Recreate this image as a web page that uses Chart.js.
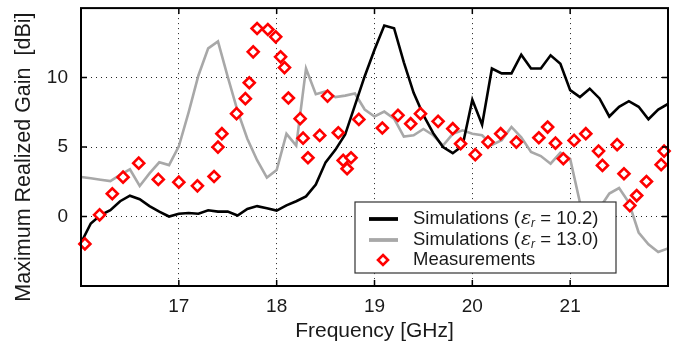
<!DOCTYPE html>
<html>
<head>
  <meta charset="UTF-8" />
  <title>Gain</title>
  <script src="https://cdn.jsdelivr.net/npm/chart.js"></script>
  <style>
    html, body { margin: 0; padding: 0; background: #fff; }
    #wrap { width: 687px; height: 351px; }
  </style>
</head>
<body>
  <div id="wrap"><canvas id="gain" width="687" height="351"></canvas></div>

  <script>
    // simulation frequency grid [GHz]
    const simFreq = [16.0, 16.1, 16.2, 16.3, 16.4, 16.5, 16.6, 16.7, 16.8, 16.9,
      17.0, 17.1, 17.2, 17.3, 17.4, 17.5, 17.6, 17.7, 17.8, 17.9,
      18.0, 18.1, 18.2, 18.3, 18.4, 18.5, 18.6, 18.7, 18.8, 18.9,
      19.0, 19.1, 19.2, 19.3, 19.4, 19.5, 19.6, 19.7, 19.8, 19.9,
      20.0, 20.1, 20.2, 20.3, 20.4, 20.5, 20.6, 20.7, 20.8, 20.9,
      21.0, 21.1, 21.2, 21.3, 21.4, 21.5, 21.6, 21.7, 21.8, 21.9, 22.0];

    // simulated gain, eps_r = 10.2 [dBi]
    const simGain102 = [-1.9, -0.5, 0.1, 0.45, 1.1, 1.5, 1.25, 0.75, 0.35, 0.0,
      0.2, 0.25, 0.2, 0.45, 0.35, 0.35, 0.07, 0.55, 0.75, 0.6,
      0.43, 0.8, 1.1, 1.45, 2.3, 3.9, 4.8, 5.9, 8.0, 10.1,
      12.0, 13.75, 13.55, 11.1, 8.9, 7.3, 6.0, 5.0, 4.56, 5.1,
      8.4, 6.6, 10.65, 10.3, 10.3, 11.65, 10.65, 10.65, 11.6, 11.0,
      9.1, 8.6, 9.2, 8.5, 7.2, 7.9, 8.3, 7.9, 7.0, 7.7, 8.1];

    // simulated gain, eps_r = 13.0 [dBi]
    const simGain130 = [2.85, 2.75, 2.65, 2.55, 3.0, 3.4, 2.2, 3.1, 3.9, 3.7,
      5.05, 7.5, 10.15, 12.1, 12.6, 10.05, 7.6, 5.6, 4.05, 2.8,
      3.35, 5.95, 5.1, 10.65, 8.8, 9.0, 8.6, 8.7, 8.85, 7.7,
      7.2, 7.55, 7.05, 5.75, 5.85, 6.3, 5.85, 5.1, 5.95, 6.2,
      5.95, 5.85, 5.15, 5.5, 6.45, 5.7, 4.65, 4.35, 3.8, 4.6,
      4.15, 1.0, -0.5, 0.6, 1.65, 2.05, 1.0, -1.15, -2.0, -2.55, -2.3];

    // measurements
    const measFreq = [16.04, 16.19, 16.32, 16.43, 16.59, 16.79, 17.0, 17.19, 17.36, 17.4,
      17.44, 17.59, 17.68, 17.72, 17.76, 17.8, 17.91, 17.99, 18.04, 18.08,
      18.12, 18.24, 18.27, 18.32, 18.44, 18.52, 18.63, 18.68, 18.72, 18.76,
      18.84, 19.08, 19.24, 19.37, 19.47, 19.65, 19.8, 19.88, 20.03, 20.16,
      20.29, 20.45, 20.68, 20.77, 20.85, 20.93, 21.04, 21.16, 21.29, 21.33,
      21.48, 21.55, 21.61, 21.68, 21.78, 21.93, 21.96];
    const measGain = [-1.97, 0.12, 1.64, 2.83, 3.84, 2.67, 2.47, 2.21, 2.88, 5.0,
      5.96, 7.4, 8.48, 9.63, 11.85, 13.53, 13.46, 12.93, 11.49, 10.72,
      8.53, 7.04, 5.64, 4.23, 5.84, 8.67, 6.03, 4.04, 3.44, 4.23,
      6.99, 6.37, 7.28, 6.68, 7.4, 6.85, 6.32, 5.24, 4.45, 5.36,
      5.96, 5.36, 5.67, 6.44, 5.28, 4.16, 5.48, 5.96, 4.71, 3.68,
      5.17, 3.08, 0.79, 1.51, 2.52, 3.73, 4.71];

    const xLabels = [17, 18, 19, 20, 21];
    const yLabels = [0, 5, 10];
    const yTitle = 'Maximum Realized Gain  [dBi]';

    const FONT = '"Liberation Sans", Arial, Helvetica, sans-serif';
    const pts = (xs, ys) => xs.map((x, i) => ({ x: x, y: ys[i] }));

    // legend entries (drawn inside the plot, bottom right)
    const legendRows = [
      { name: 'Simulations (', eps: '10.2)' },
      { name: 'Simulations (', eps: '13.0)' },
      { name: 'Measurements' }
    ];

    const boxPlugin = {
      id: 'box',
      afterDatasetsDraw(chart) {
        const { ctx, chartArea: a, scales } = chart;
        const ds = chart.data.datasets;
        ctx.save();

        // y axis title, sits a bit below the plot centre like the original
        ctx.save();
        ctx.translate(24, (a.top + a.bottom) / 2 + 10);
        ctx.rotate(-Math.PI / 2);
        ctx.font = '21.5px ' + FONT;
        ctx.fillStyle = '#1a1a1a';
        ctx.textAlign = 'center';
        ctx.textBaseline = 'middle';
        ctx.fillText(yTitle, 0, 0);
        ctx.restore();

        // inward tick marks
        ctx.strokeStyle = '#000';
        ctx.lineWidth = 1.5;
        xLabels.forEach(v => {
          const px = scales.x.getPixelForValue(v);
          ctx.beginPath();
          ctx.moveTo(px, a.bottom); ctx.lineTo(px, a.bottom - 6);
          ctx.moveTo(px, a.top); ctx.lineTo(px, a.top + 6);
          ctx.stroke();
        });
        yLabels.forEach(v => {
          const py = scales.y.getPixelForValue(v);
          ctx.beginPath();
          ctx.moveTo(a.left, py); ctx.lineTo(a.left + 6, py);
          ctx.moveTo(a.right, py); ctx.lineTo(a.right - 6, py);
          ctx.stroke();
        });

        // legend box
        const w = 261, h = 71;
        const lx = a.right - 52 - w, ly = a.bottom - 13 - h;
        ctx.fillStyle = '#fff';
        ctx.fillRect(lx, ly, w, h);
        ctx.strokeStyle = '#333';
        ctx.lineWidth = 1.2;
        ctx.strokeRect(lx, ly, w, h);

        const rowY = [17, 38, 58];
        ctx.textBaseline = 'middle';
        legendRows.forEach((r, i) => {
          const d = ds[i];
          const cy = ly + rowY[i];
          if (d.showLine) {
            ctx.strokeStyle = d.borderColor;
            ctx.lineWidth = d.borderWidth + 1.2;
            ctx.beginPath();
            ctx.moveTo(lx + 14, cy); ctx.lineTo(lx + 43, cy);
            ctx.stroke();
          } else {
            ctx.fillStyle = d.pointBackgroundColor;
            ctx.strokeStyle = d.pointBorderColor;
            ctx.lineWidth = d.pointBorderWidth;
            ctx.beginPath();
            const s = d.pointRadius - 0.5;
            ctx.moveTo(lx + 28, cy - s); ctx.lineTo(lx + 28 + s, cy);
            ctx.lineTo(lx + 28, cy + s); ctx.lineTo(lx + 28 - s, cy);
            ctx.closePath();
            ctx.fill(); ctx.stroke();
          }
          ctx.fillStyle = '#1a1a1a';
          let tx = lx + 58;
          ctx.font = '18.5px ' + FONT;
          ctx.fillText(r.name, tx, cy);
          if (r.eps) {
            tx += ctx.measureText(r.name).width;
            ctx.font = 'italic 19px "DejaVu Serif", serif';
            ctx.fillText('\u03B5', tx + 1, cy);
            tx += ctx.measureText('\u03B5').width + 1;
            ctx.font = 'italic 12px ' + FONT;
            ctx.fillText('r', tx, cy + 5);
            tx += ctx.measureText('r').width;
            ctx.font = '18.5px ' + FONT;
            ctx.fillText(' = ' + r.eps, tx, cy);
          }
        });

        // frame
        ctx.strokeStyle = '#000';
        ctx.lineWidth = 2;
        ctx.strokeRect(a.left, a.top, a.width, a.height);
        ctx.restore();
      }
    };

    new Chart(document.getElementById('gain'), {
      type: 'scatter',
      data: {
        datasets: [{
          label: 'Simulations (er = 10.2)',
          data: pts(simFreq, simGain102),
          showLine: true,
          borderColor: '#000',
          borderWidth: 2.6,
          pointRadius: 0,
          order: 1
        }, {
          label: 'Simulations (er = 13.0)',
          data: pts(simFreq, simGain130),
          showLine: true,
          borderColor: '#a8a8a8',
          borderWidth: 2.6,
          pointRadius: 0,
          order: 2
        }, {
          label: 'Measurements',
          data: pts(measFreq, measGain),
          showLine: false,
          pointStyle: 'rectRot',
          pointRadius: 5.5,
          pointBorderWidth: 2.6,
          pointBorderColor: '#f00',
          pointBackgroundColor: '#fff',
          clip: false,
          order: 0
        }]
      },
      options: {
        responsive: false,
        devicePixelRatio: 1,
        animation: false,
        layout: { padding: { top: 8, right: 19, left: 0, bottom: 0 } },
        plugins: { legend: { display: false }, tooltip: { enabled: false } },
        scales: {
          x: {
            type: 'linear',
            min: 16, max: 22,
            afterFit: s => { s.height = 65; s.paddingLeft = 0; s.paddingRight = 0; },
            ticks: {
              stepSize: 1,
              color: '#1a1a1a',
              font: { family: FONT, size: 19 },
              padding: 9,
              maxRotation: 0,
              callback: v => xLabels.includes(v) ? String(v) : null
            },
            grid: { color: '#222', lineWidth: 1, drawTicks: false },
            border: { display: false, dash: [1, 4] },
            title: {
              display: true,
              text: 'Frequency [GHz]',
              color: '#1a1a1a',
              font: { family: FONT, size: 21 },
              padding: { top: 0, bottom: 7 }
            }
          },
          y: {
            type: 'linear',
            min: -5, max: 15,
            afterFit: s => { s.width = 81; s.paddingTop = 0; s.paddingBottom = 0; },
            ticks: {
              stepSize: 5,
              color: '#1a1a1a',
              font: { family: FONT, size: 19 },
              padding: 13,
              callback: v => yLabels.includes(v) ? String(v) : null
            },
            grid: { color: '#222', lineWidth: 1, drawTicks: false },
            border: { display: false, dash: [1, 4] }
          }
        }
      },
      plugins: [boxPlugin]
    });
  </script>
</body>
</html>
